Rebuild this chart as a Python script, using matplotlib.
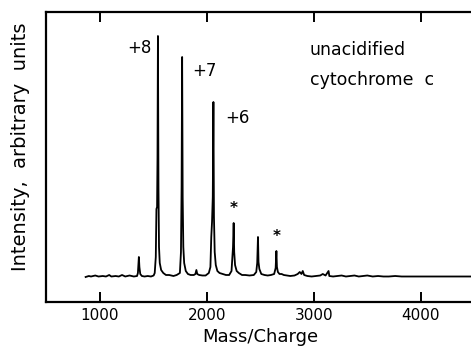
import matplotlib
matplotlib.use('Agg')
import matplotlib.pyplot as plt

# Spectrum (mass/charge, intensity in arbitrary units)
mass = [870, 900, 920, 960, 990, 1030, 1060, 1090, 1110, 1150, 1180, 1210, 1240,
        1280, 1320, 1350, 1358, 1363, 1367, 1372, 1380, 1395, 1420, 1450, 1480,
        1505, 1515, 1525, 1531, 1537, 1541, 1545, 1550, 1555, 1562, 1575, 1595,
        1620, 1650, 1690, 1720, 1750, 1760, 1766, 1771, 1776, 1782, 1790, 1805,
        1825, 1850, 1880, 1895, 1904, 1912, 1930, 1960, 1990, 2020, 2035, 2043,
        2050, 2057, 2063, 2068, 2075, 2085, 2100, 2120, 2150, 2180, 2210, 2232,
        2240, 2246, 2252, 2257, 2265, 2280, 2300, 2330, 2360, 2400, 2440, 2463,
        2472, 2479, 2484, 2492, 2510, 2540, 2570, 2600, 2630, 2644, 2651, 2656,
        2665, 2680, 2700, 2720, 2750, 2780, 2820, 2850, 2869, 2885, 2897, 2910,
        2940, 2980, 3020, 3060, 3084, 3110, 3138, 3145, 3180, 3220, 3260, 3300,
        3340, 3380, 3420, 3460, 3500, 3550, 3600, 3650, 3700, 3760, 3820, 3900,
        4000, 4200, 4500, 5000]
intensity = [0, 1, 0.5, 1.5, 0.5, 1, 0.5, 2, 0.5, 1, 0.5, 2, 0.5,
             1.5, 0.5, 1, 4, 12, 20, 10, 3, 1, 0.5, 1, 0.5,
             1.5, 4, 20, 68, 70, 120, 241, 90, 30, 14, 7, 4,
             2, 2, 1, 2, 4, 25, 90, 220, 80, 30, 14, 6,
             3, 2, 2, 3, 7, 3, 2, 1.5, 1.5, 4, 10, 40,
             55, 80, 175, 60, 25, 12, 6, 4, 3, 2, 2, 6,
             20, 30, 54, 25, 12, 6, 4, 2, 2, 1.5, 2, 5,
             14, 40, 15, 8, 3, 2, 1.5, 2, 3, 9, 26, 10,
             5, 3, 3, 2, 1.5, 1, 1.5, 3, 5, 3, 6, 2,
             1, 0.5, 1, 1.5, 3, 1.5, 6, 1, 0.5, 1, 1.5, 0.5,
             1, 1.5, 0.5, 1, 1.5, 0.5, 1, 0.5, 0.5, 1, 0.5, 0.5,
             0.5, 0.5, 0.5, 0.5]

xticks = [1000, 2000, 3000, 4000]

# charge state labels
charge_labels = ['+8', '+7', '+6']
charge_x = [1486, 1869, 2178]
charge_y = [229, 206, 159]
charge_ha = ['right', 'left', 'left']

# impurity markers
star_x = [2252, 2654]
star_y = [68, 40]

fig = plt.figure(figsize=(4.71, 3.49), dpi=100)
ax = fig.add_axes([46/471, 47/349, 482/471, 290/349])

ax.plot(mass, intensity, color='black', lw=1.3)
ax.set_xlim(500, 5000)
ax.set_ylim(-25, 265)

ax.set_xticks(xticks)
ax.set_yticks([])
ax.tick_params(axis='x', direction='in', length=7, width=1.4, top=True,
               labelsize=11, pad=4)
for s in ax.spines.values():
    s.set_linewidth(1.6)

for lab, x, y, ha in zip(charge_labels, charge_x, charge_y, charge_ha):
    ax.text(x, y, lab, ha=ha, va='center', fontsize=12)
for x, y in zip(star_x, star_y):
    ax.text(x, y, '*', ha='center', va='center', fontsize=11, fontweight='bold')

ax.text(2963, 227, 'unacidified', ha='left', va='center', fontsize=12.5)
ax.text(2963, 197, 'cytochrome  c', ha='left', va='center', fontsize=12.5)

fig.text(21/471, 1 - 147/349, 'Intensity,  arbitrary  units', rotation=90,
         ha='center', va='center', fontsize=14)
fig.text(260/471, 1 - 337/349, 'Mass/Charge', ha='center', va='center',
         fontsize=13)

fig.savefig('out.png', dpi=100)
